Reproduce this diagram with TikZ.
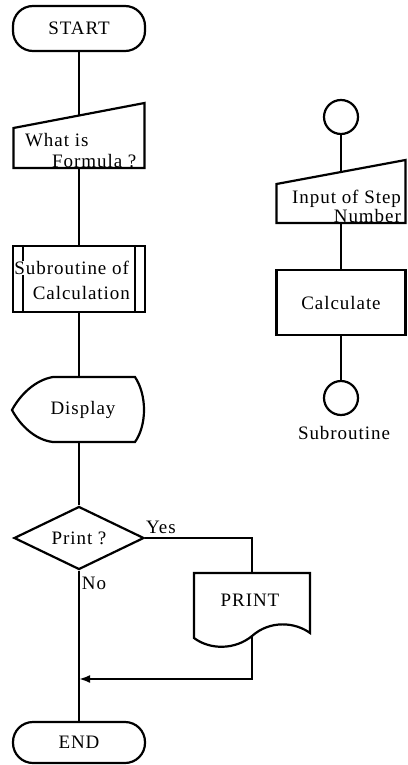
\documentclass[tikz,border=0pt]{standalone}
\usepackage{fontspec}
\setmainfont{Liberation Serif}[LetterSpace=5]
\usetikzlibrary{shapes.geometric,arrows.meta}

\begin{document}
\begin{tikzpicture}[x=1pt,y=-1pt,line width=2.2pt,
		font=\fontsize{19}{21}\selectfont,
		terminal/.style={draw,rectangle,rounded corners=20pt,minimum width=132pt},
		frame/.style={rectangle,inner sep=0pt,outer sep=0pt},
		box/.style={draw,rectangle,minimum width=132pt,minimum height=65pt},
		decision/.style={draw,diamond,aspect=2,inner sep=0pt,minimum width=130pt,minimum height=63pt},
		conn/.style={draw,circle,minimum size=34pt,inner sep=0pt},
		txt/.style={inner sep=0pt}]
			\useasboundingbox (0,0) rectangle (407,765);
			
			%main flow
			\node[terminal,minimum height=45pt] (start) at (79,28.5) {START};
			
			\node[frame,minimum width=131pt,minimum height=52pt] (formula) at (79,142) {};
			\draw (13.5,128) -- (144.5,103) -- (144.5,168) -- (13.5,168) -- cycle;
			\node[txt,align=left,anchor=west] (formulatxt) at (24,150.5) {What is\\\hspace{27pt}Formula ?};
			
			\node[box,minimum height=66pt] (sub) at (79,279) {};
			\draw ([xshift=11pt]sub.north west) -- ([xshift=11pt]sub.south west);
			\draw ([xshift=-11pt]sub.north east) -- ([xshift=-11pt]sub.south east);
			\node[txt,fill=white,anchor=east] (subtxt) at (130,268) {Subroutine of};
			\node[txt,anchor=east] (calctxt) at (131,293) {Calculation};
			
			\node[frame,minimum width=133pt,minimum height=65pt] (disp) at (79,409.5) {};
			\draw (53,377) -- (135,377) .. controls (147,395) and (147,425) .. (135,442) -- (53,442)
				.. controls (35,440) and (20,425) .. (12,410) .. controls (20,395) and (35,380) .. (53,377) -- cycle;
			\node[txt] (disptxt) at (83,410) {Display};
			
			\node[decision] (ask) at (79,538) {Print ?};
			\node[txt] (yes) at (161,527) {Yes};
			\node[txt] (no) at (94,583) {No};
			
			\node[frame,minimum width=116pt,minimum height=64pt] (doc) at (252,605) {};
			\draw (doc.north west) -- (doc.north east) -- (310,633) .. controls (295,622) and (270,620) .. (252,636)
				.. controls (235,650) and (210,650) .. (194,638) -- cycle;
			\node[txt] (doctxt) at (250,600) {PRINT};
			
			\node[terminal,minimum height=41pt] (stop) at (79,742.5) {END};
			\coordinate (join) at (79,679);
			
			\draw (start) -- (formula);
			\draw (formula) -- (sub);
			\draw (sub) -- (disp);
			\draw (disp) -- (ask);
			\draw (ask) -- (stop);
			\draw (ask) -| (doc);
			\draw[-{Latex[length=11pt,width=8pt]}] (doc) |- (join);
			
			%subroutine
			\node[conn] (entry) at (341,117) {};
			\node[frame,minimum width=129pt,minimum height=51pt] (inp) at (341,197.5) {};
			\draw (276.5,184) -- (405.5,160) -- (405.5,223) -- (276.5,223) -- cycle;
			\node[txt,align=right,anchor=east,font=\fontsize{19}{17}\selectfont] (inptxt) at (402,206.5) {Input of Step\\Number};
			\node[box,minimum width=129pt] (calc) at (341,302.5) {Calculate};
			\node[conn] (exit) at (341,398) {};
			\node[txt] (sublabel) at (344,433) {Subroutine};
			
			\draw (entry) -- (inp);
			\draw (inp) -- (calc);
			\draw (calc) -- (exit);
		\end{tikzpicture}
\end{document}
